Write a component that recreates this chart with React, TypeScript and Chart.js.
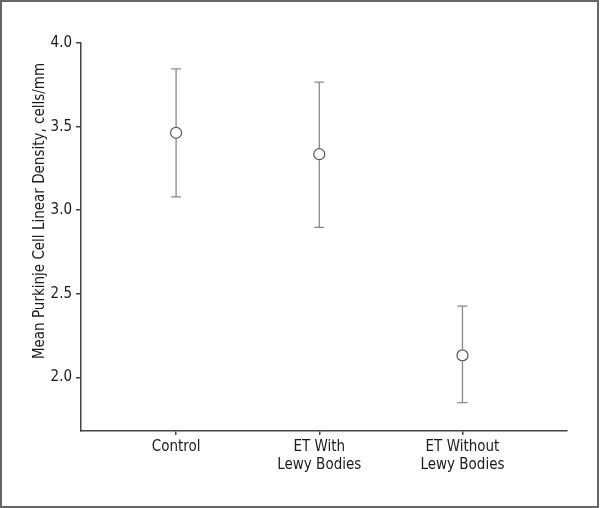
import React, { useEffect, useRef } from "react";
import { Chart, registerables } from "chart.js";

Chart.register(...registerables);

const categories: string[][] = [["Control"], ["ET With", "Lewy Bodies"], ["ET Without", "Lewy Bodies"]];
const means: number[] = [3.463, 3.335, 2.132];
const upper: number[] = [3.845, 3.766, 2.427];
const lower: number[] = [3.08, 2.898, 1.85];
const yTicks: number[] = [2.0, 2.5, 3.0, 3.5, 4.0];
const yTitle = "Mean Purkinje Cell Linear Density, cells/mm";

const FONT = "'Liberation Sans Narrow', 'DejaVu Sans Condensed', 'Arial Narrow', sans-serif";

const errorBarPlugin = {
  id: "errorBars",
  afterDatasetsDraw(chart: any) {
    const ctx = chart.ctx;
    const xs = chart.scales.x;
    const ys = chart.scales.y;
    ctx.save();
    ctx.strokeStyle = "#8a8a8a";
    ctx.lineWidth = 1.3;
    means.forEach((m, i) => {
      const x = xs.getPixelForValue(i);
      const yT = ys.getPixelForValue(upper[i]);
      const yB = ys.getPixelForValue(lower[i]);
      const yM = ys.getPixelForValue(m);
      const r = 6;
      ctx.beginPath();
      ctx.moveTo(x, yT);
      ctx.lineTo(x, yM - r);
      ctx.moveTo(x, yM + r);
      ctx.lineTo(x, yB);
      ctx.moveTo(x - 5, yT);
      ctx.lineTo(x + 5, yT);
      ctx.moveTo(x - 5, yB);
      ctx.lineTo(x + 5, yB);
      ctx.stroke();
    });
    ctx.restore();
  },
};

const titlePlugin = {
  id: "yTitle",
  afterDraw(chart: any) {
    const ctx = chart.ctx;
    ctx.save();
    ctx.translate(40, 211);
    ctx.rotate(-Math.PI / 2);
    ctx.font = `15px ${FONT}`;
    ctx.fillStyle = "#1a1a1a";
    ctx.textAlign = "center";
    ctx.textBaseline = "middle";
    ctx.fillText(yTitle, 0, 0);
    ctx.restore();
  },
};

export default function App() {
  const ref = useRef<HTMLCanvasElement>(null);
  useEffect(() => {
    document.body.style.margin = "0";
    const chart = new Chart(ref.current!, {
      type: "scatter",
      data: {
        datasets: [
          {
            data: means.map((m, i) => ({ x: i, y: m })),
            pointStyle: "circle",
            pointRadius: 5.5,
            pointHoverRadius: 5.5,
            pointBackgroundColor: "#ffffff",
            pointBorderColor: "#555555",
            pointBorderWidth: 1.2,
          },
        ],
      },
      options: {
        animation: false,
        responsive: false,
        events: [],
        layout: { padding: { left: 0, top: 43, right: 33, bottom: 17 } },
        plugins: { legend: { display: false }, tooltip: { enabled: false } },
        scales: {
          x: {
            type: "linear",
            min: -0.664,
            max: 2.73,
            afterFit: (s: any) => { s.height = 60; },
            afterBuildTicks: (s: any) => { s.ticks = categories.map((_, i) => ({ value: i })); },
            ticks: {
              callback: (v: any) => categories[v as number] ?? "",
              font: { family: FONT, size: 15 },
              color: "#1a1a1a",
              padding: 3,
              maxRotation: 0,
              autoSkip: false,
            },
            grid: { drawOnChartArea: false, drawTicks: true, tickLength: 4, color: "#444", lineWidth: 1.5 },
            border: { display: true, color: "#444", width: 1.5 },
          },
          y: {
            type: "linear",
            min: 1.68,
            max: 4.0,
            afterFit: (s: any) => { s.width = 81; },
            afterBuildTicks: (s: any) => { s.ticks = yTicks.map((v) => ({ value: v })); },
            ticks: {
              callback: (v: any) => Number(v).toFixed(1),
              font: { family: FONT, size: 15 },
              color: "#1a1a1a",
              padding: 4,
            },
            grid: { drawOnChartArea: false, drawTicks: true, tickLength: 5, color: "#444", lineWidth: 1.5 },
            border: { display: true, color: "#444", width: 1.5 },
          },
        },
      },
      plugins: [errorBarPlugin, titlePlugin],
    });
    return () => chart.destroy();
  }, []);
  return (
    <div style={{ position: "relative", width: 600, height: 508 }}>
      <canvas ref={ref} width={600} height={508} />
      <div
        style={{
          position: "absolute",
          left: 0,
          top: 0,
          width: 599,
          height: 508,
          border: "2px solid #666",
          boxSizing: "border-box",
          pointerEvents: "none",
        }}
      />
    </div>
  );
}
